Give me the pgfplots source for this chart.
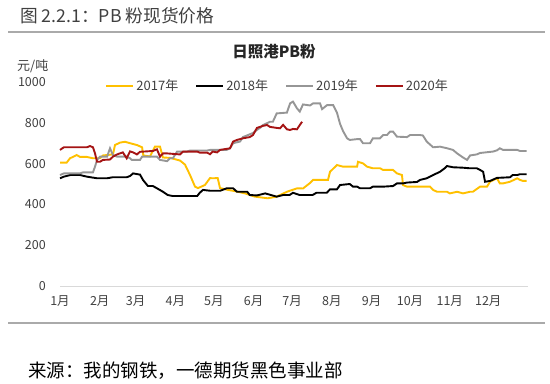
\documentclass[border=0pt]{standalone}
\usepackage{fontspec}
\setmainfont{Noto Sans CJK SC}
\usepackage{pgfplots}
\pgfplotsset{compat=1.18}
\definecolor{c17}{RGB}{255,192,0}
\definecolor{c18}{RGB}{0,0,0}
\definecolor{c19}{RGB}{150,150,150}
\definecolor{c20}{RGB}{165,20,20}
\definecolor{axisgray}{RGB}{217,217,217}
\definecolor{txt}{RGB}{64,64,64}
\definecolor{rule}{RGB}{170,170,170}
\begin{document}
\begin{tikzpicture}[x=1bp,y=1bp]
\path[use as bounding box] (0,0) rectangle (550,383);
\node[anchor=west, text=txt, font=\fontsize{17.7bp}{20bp}\selectfont, inner sep=0pt] at (20,367.5) {图 2.2.1：PB 粉现货价格};
\draw[line width=2bp, color=rule] (8,351) -- (545,351);
\draw[line width=2bp, color=rule] (8,60) -- (545,60);
\node[anchor=west, inner sep=0pt, font=\fontsize{18.5bp}{20bp}\selectfont] at (28,12.5) {来源：我的钢铁，一德期货黑色事业部};
\node[font=\bfseries\fontsize{15.5bp}{17bp}\selectfont, text=black!85] at (274,331) {日照港PB粉};
\node[anchor=west, inner sep=0pt, text=txt, font=\fontsize{13bp}{15bp}\selectfont] at (17,317) {元/吨};
\begin{axis}[
  at={(60bp,97bp)}, anchor=south west,
  scale only axis, width=468bp, height=204bp,
  xmin=0, xmax=365, ymin=0, ymax=1000,
  axis line style={draw=none},
  tick style={draw=none},
  ytick={0,200,400,600,800,1000},
  xtick={0,31,59,90,120,151,181,212,243,273,304,334},
  xticklabels={1月,2月,3月,4月,5月,6月,7月,8月,9月,10月,11月,12月},
  /pgf/number format/assume math mode=true,
  /pgf/number format/1000 sep={},
  yticklabel style={inner sep=0pt, anchor=east, xshift=-14bp, text=txt, font=\fontsize{12.5bp}{14bp}\selectfont},
  xticklabel style={inner sep=0pt, anchor=center, yshift=-15bp, text=txt, font=\fontsize{12.5bp}{14bp}\selectfont},
  legend columns=4,
  legend style={at={(0.465,0.98)}, anchor=center, draw=none, fill=none, text=txt,
    font=\fontsize{13bp}{15bp}\selectfont,
    /tikz/every even column/.append style={column sep=15bp}},
  legend image code/.code={\draw[#1, line width=2bp] (0bp,0bp) -- (27bp,0bp);},
  clip=false,
]
\draw[axisgray, line width=1bp] (axis cs:0,0) -- (axis cs:365,0);
\addplot[c17, line width=1.9bp] coordinates {(0,605)(5.2,605)(7.8,626)(13,642)(15.6,633)(20.8,633)(25.7,626)(31.2,626)(33.5,640)(41.3,645)(42.9,691)(46.8,703)(50.7,707)(54.6,700)(60,691)(64,680)(65,640)(70.2,635)(74,683)(78,683)(80.3,630)(85.8,628)(93.6,615)(97.5,595)(101.4,544)(105.3,487)(107.6,480)(113,495)(117,529)(119,528)(123,529)(124.8,480)(131,471)(136.5,465)(144.3,454)(152,438)(162,430)(169,438)(177,462)(185,479)(189.5,478)(195,505)(197.3,520)(209,520)(210.6,560)(216,593)(220.7,585)(231.7,585)(232.4,609)(236.3,601)(239.5,585)(244,577)(249.6,577)(252,569)(259.7,569)(262.8,552)(266.7,544)(267.5,495)(270.6,487)(288.6,487)(291,471)(294,462)(301.8,462)(304,454)(309.7,462)(314.3,454)(319.8,462)(322,462)(327.6,487)(333,487)(335.4,511)(340.8,528)(343,503)(345.5,503)(351,511)(356.5,528)(358.8,520)(361,515)(364,515)};
\addlegendentry{2017年}
\addplot[c18, line width=1.9bp] coordinates {(0,528)(3,536)(8,544)(15.6,544)(21,536)(29,528)(36.7,528)(41,533)(52,533)(54.6,539)(57,552)(62.4,546)(64.7,520)(68.6,490)(72.5,490)(75.6,479)(80.3,462)(84,446)(88,441)(107,441)(109,457)(111.5,471)(117,467)(125,467)(130,479)(135,479)(138,462)(146,462)(148,446)(153.6,444)(160,454)(169,438)(174,446)(179,446)(181.7,457)(187,446)(197,446)(200,457)(208,457)(210.6,474)(216,474)(218.4,495)(226,500)(228.5,487)(231.7,487)(234,479)(241.8,479)(244,487)(252,487)(259.7,490)(262.8,503)(267.5,503)(270.6,507)(278.4,510)(280.8,520)(286,528)(291,544)(296.4,560)(300,577)(301.8,588)(306.5,582)(314,580)(319.8,577)(325,577)(327.6,569)(330,560)(331.5,511)(335.4,515)(340.8,530)(351,533)(353,544)(356.5,544)(358.8,548)(364,548)};
\addlegendentry{2018年}
\addplot[c19, line width=1.9bp] coordinates {(0,544)(3,552)(15.6,552)(18,557)(25.7,557)(27.3,585)(28.9,618)(31.2,634)(36.7,634)(39,675)(41.3,642)(44.5,634)(52,634)(54.6,626)(56,618)(62.4,618)(64,634)(75.6,634)(78,618)(83.5,612)(85.8,626)(88,626)(91.3,659)(99,659)(101.4,664)(114.7,664)(117,667)(130,667)(132.6,675)(135,700)(140.4,708)(142.7,730)(150.5,750)(153.6,765)(156,775)(158.3,789)(163.8,805)(166,805)(169,846)(177,850)(179.4,895)(181.7,904)(184.8,871)(187,855)(189.5,890)(195,885)(197.3,895)(202.8,895)(204.4,867)(208.3,887)(213,887)(216,850)(218.4,795)(220.7,760)(223.9,724)(226,716)(231.7,720)(234,720)(236.3,700)(241.8,700)(244,724)(249.6,724)(252,740)(255,740)(257.4,757)(259.7,757)(262.8,732)(270.6,730)(273,740)(280.8,740)(283,738)(286,708)(291,680)(296.4,683)(302,675)(306.5,667)(309.7,650)(314.3,630)(317.5,618)(319.8,640)(325,645)(327.6,652)(337.7,659)(340.8,665)(343,675)(345.5,667)(356.5,667)(358.8,662)(364,662)};
\addlegendentry{2019年}
\addplot[c20, line width=1.9bp] coordinates {(0,667)(3,680)(7.8,680)(21,680)(23.4,686)(25.7,680)(27.3,650)(28.9,609)(31.2,609)(33.5,618)(39,620)(41.3,634)(44.5,645)(49,655)(52,626)(54.6,660)(57,655)(60,645)(62.4,658)(67.9,660)(72.5,662)(75.6,670)(78,634)(80.3,650)(83.5,650)(93.6,645)(96,659)(107,659)(109,654)(114.7,654)(117,646)(119,659)(122.5,655)(124.8,667)(132.6,675)(135,708)(138,716)(142.7,724)(148,730)(150.5,740)(153.6,775)(158.3,785)(161.5,789)(163.8,780)(169,775)(171.6,773)(174,790)(177,768)(179.4,765)(181.7,770)(184.8,768)(187,789)(188.8,805)};
\addlegendentry{2020年}
\end{axis}
\end{tikzpicture}
\end{document}
